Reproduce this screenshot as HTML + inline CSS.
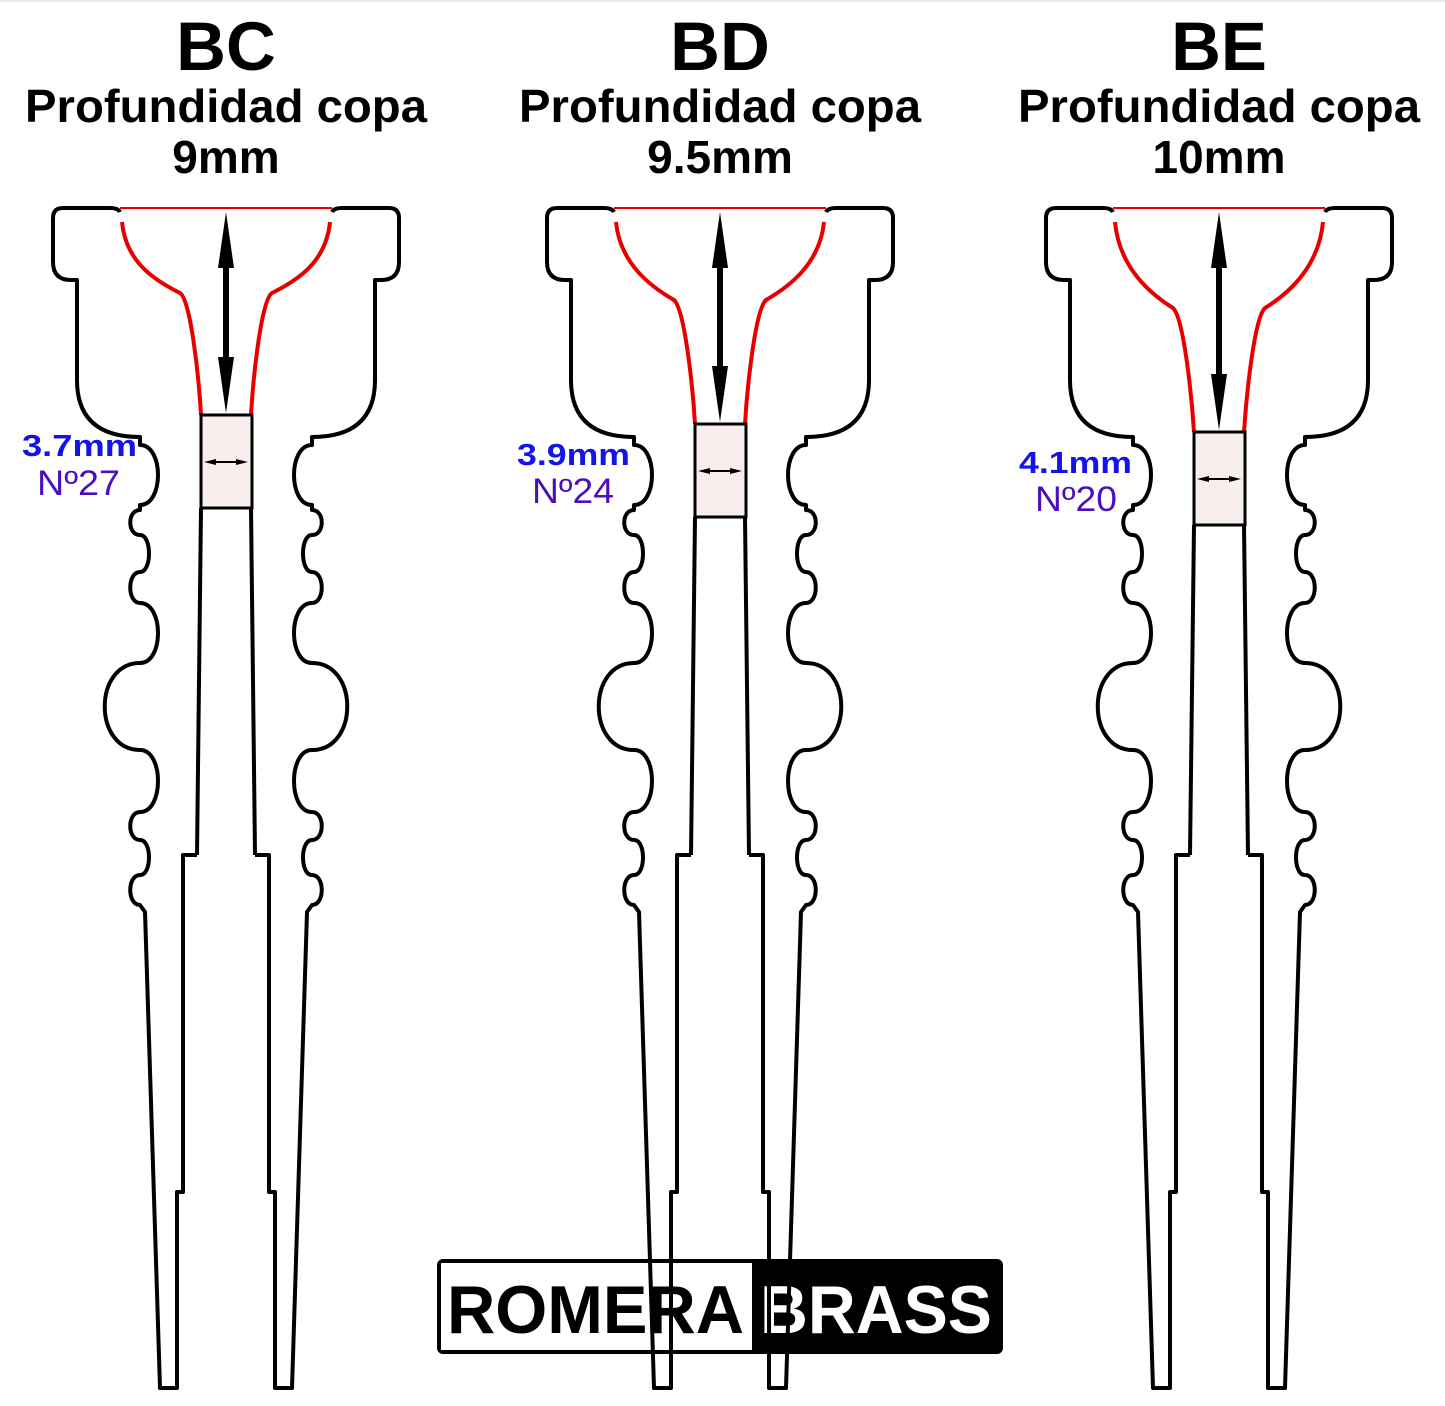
<!DOCTYPE html>
<html><head><meta charset="utf-8"><style>
html,body{margin:0;padding:0;background:#fff;}
svg{display:block;font-family:"Liberation Sans",Arial,sans-serif;}
</style></head><body>
<svg width="1445" height="1406" viewBox="0 0 1445 1406" xmlns="http://www.w3.org/2000/svg">
<rect x="0" y="0" width="1445" height="1406" fill="#fff"/>
<rect x="0" y="0" width="1445" height="2" fill="#e8e8e8"/>
<defs>
<path id="outerBase" d="M -106,212 Q -108,208 -116,208 L -163,208 Q -173,208 -173,218 L -173,262 Q -173,280 -155,280 L -149,280 L -149,380 Q -149,437 -86,437 L -86,445 C -62,445 -62,505 -86,505 L -86,510 C -99,510 -99,535 -86,535 C -74,535 -74,572 -86,572 C -99,572 -99,603 -86,603 C -62,603 -62,663 -86,663 C -133,663 -133,750 -86,750 C -62,750 -62,812 -86,812 C -99,812 -99,840 -86,840 C -74,840 -74,875 -86,875 C -99,875 -99,905 -86,905 L -81,912 L -66,1388 L -49,1388 L -49,1192 L -43,1192 L -43,855 L -29,855" fill="none" stroke="#000" stroke-width="4" stroke-linejoin="round"/>
</defs>

<!-- Logo -->
<rect x="437" y="1259" width="566" height="95" rx="6" fill="#000"/>
<rect x="441" y="1263" width="311" height="87" fill="#fff"/>
<text x="447" y="1333" font-size="68" font-weight="bold" fill="#000" textLength="297" lengthAdjust="spacingAndGlyphs">ROMERA</text>
<text x="760" y="1333" font-size="68" font-weight="bold" fill="#fff" textLength="232" lengthAdjust="spacingAndGlyphs">BRASS</text>

<!-- Titles -->
<g font-weight="bold" fill="#000" text-anchor="middle">
<text x="226" y="70" font-size="69">BC</text>
<text x="226" y="122" font-size="46" textLength="402" lengthAdjust="spacingAndGlyphs">Profundidad copa</text>
<text x="226" y="173" font-size="46">9mm</text>
<text x="720" y="70" font-size="69">BD</text>
<text x="720" y="122" font-size="46" textLength="402" lengthAdjust="spacingAndGlyphs">Profundidad copa</text>
<text x="720" y="173" font-size="46">9.5mm</text>
<text x="1219" y="70" font-size="69">BE</text>
<text x="1219" y="122" font-size="46" textLength="402" lengthAdjust="spacingAndGlyphs">Profundidad copa</text>
<text x="1219" y="173" font-size="46">10mm</text>
</g>

<!-- Labels -->
<g font-size="31">
<text x="22" y="456" font-weight="bold" fill="#1414e8" textLength="115" lengthAdjust="spacingAndGlyphs">3.7mm</text>
<text x="37" y="495" fill="#4a10c0" font-size="35" textLength="83" lengthAdjust="spacingAndGlyphs">Nº27</text>
<text x="517" y="465" font-weight="bold" fill="#1414e8" textLength="113" lengthAdjust="spacingAndGlyphs">3.9mm</text>
<text x="532" y="503" fill="#4a10c0" font-size="35" textLength="82" lengthAdjust="spacingAndGlyphs">Nº24</text>
<text x="1019" y="473" font-weight="bold" fill="#1414e8" textLength="113" lengthAdjust="spacingAndGlyphs">4.1mm</text>
<text x="1035" y="511" fill="#4a10c0" font-size="35" textLength="82" lengthAdjust="spacingAndGlyphs">Nº20</text>
</g>

<!-- BC b=415 -->
<g transform="translate(226,0)">
 <g id="halfBC">
  <use href="#outerBase"/>
  <path d="M -29,855 L -25,508" fill="none" stroke="#000" stroke-width="4"/>
  <path d="M -104,222 C -100,262 -72,280 -46,293 C -35,300 -27,380 -25,415" fill="none" stroke="#e80000" stroke-width="4"/>
 </g>
 <use href="#halfBC" transform="scale(-1,1)"/>
 <line x1="-106" y1="208" x2="106" y2="208" stroke="#e80000" stroke-width="2"/>
 <rect x="-25" y="415" width="51" height="93" fill="#f8eeee" stroke="#000" stroke-width="3"/>
 <line x1="0" y1="240" x2="0" y2="385" stroke="#000" stroke-width="6"/>
 <polygon points="0,212 -8,268 8,268" fill="#000"/>
 <polygon points="0,413 -8,357 8,357" fill="#000"/>
 <line x1="-18" y1="462" x2="18" y2="462" stroke="#000" stroke-width="2"/>
 <polygon points="-22,462 -10,459 -10,465" fill="#000"/><polygon points="22,462 10,459 10,465" fill="#000"/>
</g>

<!-- BD b=424 -->
<g transform="translate(720,0)">
 <g id="halfBD">
  <use href="#outerBase"/>
  <path d="M -29,855 L -25,517" fill="none" stroke="#000" stroke-width="4"/>
  <path d="M -104,222 C -100,262 -72,285 -46,300 C -35,310 -27,390 -25,424" fill="none" stroke="#e80000" stroke-width="4"/>
 </g>
 <use href="#halfBD" transform="scale(-1,1)"/>
 <line x1="-106" y1="208" x2="106" y2="208" stroke="#e80000" stroke-width="2"/>
 <rect x="-25" y="424" width="51" height="93" fill="#f8eeee" stroke="#000" stroke-width="3"/>
 <line x1="0" y1="240" x2="0" y2="394" stroke="#000" stroke-width="6"/>
 <polygon points="0,212 -8,268 8,268" fill="#000"/>
 <polygon points="0,422 -8,366 8,366" fill="#000"/>
 <line x1="-18" y1="471" x2="18" y2="471" stroke="#000" stroke-width="2"/>
 <polygon points="-22,471 -10,468 -10,474" fill="#000"/><polygon points="22,471 10,468 10,474" fill="#000"/>
</g>

<!-- BE b=432 -->
<g transform="translate(1219,0)">
 <g id="halfBE">
  <use href="#outerBase"/>
  <path d="M -29,855 L -25,525" fill="none" stroke="#000" stroke-width="4"/>
  <path d="M -104,222 C -100,265 -72,292 -46,308 C -35,318 -27,400 -25,432" fill="none" stroke="#e80000" stroke-width="4"/>
 </g>
 <use href="#halfBE" transform="scale(-1,1)"/>
 <line x1="-106" y1="208" x2="106" y2="208" stroke="#e80000" stroke-width="2"/>
 <rect x="-25" y="432" width="51" height="93" fill="#f8eeee" stroke="#000" stroke-width="3"/>
 <line x1="0" y1="240" x2="0" y2="402" stroke="#000" stroke-width="6"/>
 <polygon points="0,212 -8,268 8,268" fill="#000"/>
 <polygon points="0,430 -8,374 8,374" fill="#000"/>
 <line x1="-18" y1="479" x2="18" y2="479" stroke="#000" stroke-width="2"/>
 <polygon points="-22,479 -10,476 -10,482" fill="#000"/><polygon points="22,479 10,476 10,482" fill="#000"/>
</g>
</svg>
</body></html>
